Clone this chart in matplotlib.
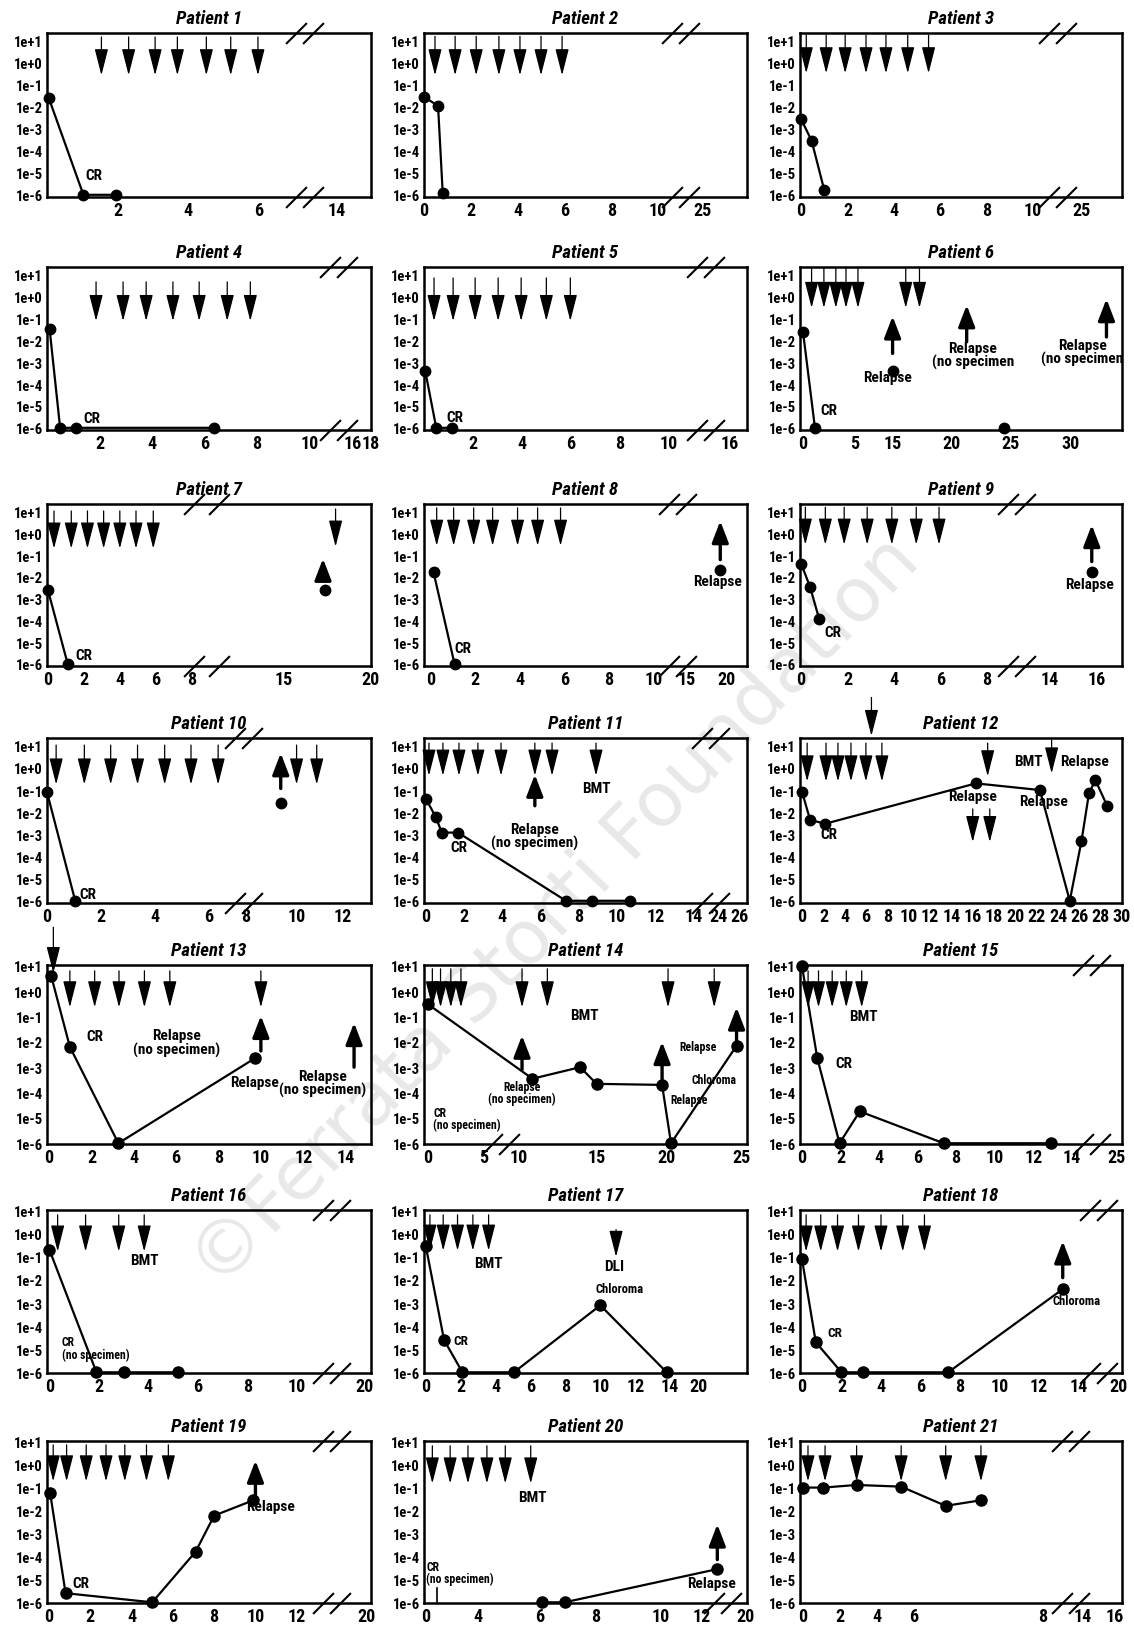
import matplotlib
matplotlib.use('Agg')
import matplotlib.pyplot as plt

plt.rcParams['font.family'] = ['Roboto Condensed', 'Fira Sans Condensed', 'DejaVu Sans']
plt.rcParams['font.weight'] = 'heavy'

W, H = 1134, 1631

YTICKS = [1e1, 1e0, 1e-1, 1e-2, 1e-3, 1e-4, 1e-5, 1e-6]
YLABELS = ['1e+1', '1e+0', '1e-1', '1e-2', '1e-3', '1e-4', '1e-5', '1e-6']

# ---- patient data (x in axis units, y = residual disease level) ----
P1_X = [0.05, 1.03, 1.94]
P1_Y = [2.5e-2, 1e-6, 1e-6]
P1_DOWN = [1.54, 2.31, 3.06, 3.69, 4.51, 5.2, 5.97]
P1_TICKS = [2, 4, 6, 8.2]
P1_LABELS = ['2', '4', '6', '14']

P2_X = [0, 0.6, 0.8]
P2_Y = [2.8e-2, 1.1e-2, 1.2e-6]
P2_DOWN = [0.47, 1.33, 2.23, 3.2, 4.1, 5.0, 5.9]
P2_TICKS = [0, 2, 4, 6, 8, 10, 11.9]
P2_LABELS = ['0', '2', '4', '6', '8', '10', '25']

P3_X = [0, 0.45, 1.0]
P3_Y = [2.7e-3, 2.9e-4, 1.6e-6]
P3_DOWN = [0.22, 1.08, 1.9, 2.8, 3.66, 4.6, 5.5]
P3_TICKS = [0, 2, 4, 6, 8, 10, 12.1]
P3_LABELS = ['0', '2', '4', '6', '8', '10', '25']

P4_X = [0.1, 0.5, 1.1, 6.35]
P4_Y = [3.2e-2, 1e-6, 1e-6, 1e-6]
P4_DOWN = [1.87, 2.9, 3.78, 4.8, 5.8, 6.87, 7.75]
P4_TICKS = [2, 4, 6, 8, 10, 11.65, 12.35]
P4_LABELS = ['2', '4', '6', '8', '10', '16', '18']

P5_X = [0.05, 0.5, 1.15]
P5_Y = [4e-4, 1e-6, 1e-6]
P5_DOWN = [0.41, 1.19, 2.09, 3.03, 3.97, 5.0, 5.98]
P5_TICKS = [2, 4, 6, 8, 10, 12.5]
P5_LABELS = ['2', '4', '6', '8', '10', '16']

P6_X = [0, 1.0]
P6_Y = [2.5e-2, 1e-6]
P6_PX = [7.5, 16.8]
P6_PY = [4e-4, 1e-6]
P6_DOWN = [0.72, 1.75, 2.75, 3.6, 4.6, 8.6, 9.75]
P6_TICKS = [0, 4.33, 7.5, 12.4, 17.4, 22.4]
P6_LABELS = ['0', '5', '15', '20', '25', '30']

P7_X = [0, 1.1]
P7_Y = [2.5e-3, 1e-6]
P7_PX = [15.4]
P7_PY = [2.5e-3]
P7_DOWN = [0.34, 1.3, 2.2, 3.1, 4.0, 4.9, 5.86]
P7_TICKS = [0, 2, 4, 6, 8, 13.1, 17.97]
P7_LABELS = ['0', '2', '4', '6', '8', '15', '20']

P8_X = [0.13, 1.07]
P8_Y = [1.6e-2, 1e-6]
P8_PX = [13.0]
P8_PY = [2e-2]
P8_DOWN = [0.27, 1.03, 1.93, 2.78, 3.9, 4.8, 5.83]
P8_TICKS = [0, 2, 4, 6, 8, 10, 11.5, 13.3]
P8_LABELS = ['0', '2', '4', '6', '8', '10', '15', '20']

P9_X = [0, 0.38, 0.77]
P9_Y = [4e-2, 3.5e-3, 1.2e-4]
P9_PX = [12.5]
P9_PY = [1.6e-2]
P9_DOWN = [0.18, 1.04, 1.85, 2.84, 3.9, 4.95, 5.93]
P9_TICKS = [0, 2, 4, 6, 8, 10.7, 12.7]
P9_LABELS = ['0', '2', '4', '6', '8', '14', '16']

P10_X = [0, 1.05]
P10_Y = [8e-2, 1e-6]
P10_PX = [8.7]
P10_PY = [2.5e-2]
P10_DOWN = [0.34, 1.39, 2.37, 3.37, 4.38, 5.36, 6.37, 9.29, 10.04]
P10_TICKS = [0, 2, 4, 6, 7.4, 9.3, 11.0]
P10_LABELS = ['0', '2', '4', '6', '8', '10', '12']

P11_X = [0, 0.52, 0.83, 1.68, 7.33, 8.7, 10.7]
P11_Y = [4e-2, 6e-3, 1.2e-3, 1.2e-3, 1e-6, 1e-6, 1e-6]
P11_DOWN = [0.16, 0.89, 1.73, 2.72, 3.93, 5.7, 6.6, 8.9]
P11_TICKS = [0, 2, 4, 6, 8, 10, 12, 14, 15.3, 16.4]
P11_LABELS = ['0', '2', '4', '6', '8', '10', '12', '14', '24', '26']

P12_X = [0, 0.75, 2.15, 16.3, 22.3, 25.1, 26.2, 26.9, 27.5, 28.6]
P12_Y = [8e-2, 4.5e-3, 3e-3, 0.2, 0.1, 1e-6, 5e-4, 7e-2, 0.28, 2e-2]
P12_DOWN = [0.47, 2.24, 3.36, 4.58, 5.98, 7.48]
P12_TICKS = list(range(0, 31, 2))
P12_LABELS = [str(t) for t in P12_TICKS]

P13_X = [0.1, 0.98, 3.27, 9.7]
P13_Y = [3.9, 6.3e-3, 1e-6, 2.2e-3]
P13_DOWN = [0.98, 2.15, 3.3, 4.5, 5.7, 10.0]
P13_TICKS = [0, 2, 4, 6, 8, 10, 12, 14]
P13_LABELS = ['0', '2', '4', '6', '8', '10', '12', '14']

P14_X = [0, 7.0, 10.2, 11.3, 15.7, 16.3, 20.7]
P14_Y = [0.3, 3.5e-4, 1e-3, 2.2e-4, 2e-4, 1e-6, 7e-3]
P14_DOWN = [0.28, 0.83, 1.52, 2.2, 6.3, 8.0, 16.1, 19.2]
P14_TICKS = [0, 3.7, 6.07, 11.3, 16.0, 21.0]
P14_LABELS = ['0', '5', '10', '15', '20', '25']

P15_X = [0, 0.8, 1.95, 3.0, 7.35, 12.9]
P15_Y = [10, 2.2e-3, 1e-6, 1.8e-5, 1e-6, 1e-6]
P15_DOWN = [0.32, 0.86, 1.57, 2.3, 3.1]
P15_TICKS = [0, 2, 4, 6, 8, 10, 12, 14, 16.3]
P15_LABELS = ['0', '2', '4', '6', '8', '10', '12', '14', '25']

P16_X = [0, 1.9, 3.0, 5.2]
P16_Y = [0.2, 1e-6, 1e-6, 1e-6]
P16_DOWN = [0.33, 1.46, 2.8, 3.83]
P16_TICKS = [0, 2, 4, 6, 8, 10, 12.75]
P16_LABELS = ['0', '2', '4', '6', '8', '10', '20']

P17_X = [0, 1.05, 2.1, 5.05, 10.0, 13.8]
P17_Y = [0.3, 2.5e-5, 1e-6, 1e-6, 8e-4, 1e-6]
P17_DOWN = [0.24, 1.0, 1.82, 2.7, 3.6]
P17_TICKS = [0, 2, 4, 6, 8, 10, 12, 14, 15.6]
P17_LABELS = ['0', '2', '4', '6', '8', '10', '12', '14', '20']

P18_X = [0, 0.7, 2.0, 3.1, 7.4, 13.2]
P18_Y = [0.08, 2e-5, 1e-6, 1e-6, 1e-6, 4e-3]
P18_DOWN = [0.21, 0.95, 1.8, 2.86, 4.0, 5.1, 6.2]
P18_TICKS = [0, 2, 4, 6, 8, 10, 12, 14, 16.0]
P18_LABELS = ['0', '2', '4', '6', '8', '10', '12', '14', '20']

P19_X = [0.05, 0.8, 5.0, 7.1, 8.0, 9.9]
P19_Y = [0.06, 2.5e-6, 1e-6, 1.6e-4, 6e-3, 2.8e-2]
P19_DOWN = [0.2, 0.85, 1.8, 2.76, 3.67, 4.72, 5.78]
P19_TICKS = [0, 2, 4, 6, 8, 10, 12, 15.4]
P19_LABELS = ['0', '2', '4', '6', '8', '10', '12', '20']

P20_X = [8.2, 9.8, 20.6]
P20_Y = [1e-6, 1e-6, 2.8e-5]
P20_DOWN = [0.44, 1.7, 2.96, 4.3, 5.6, 7.4]
P20_TICKS = [0, 3.7, 8.0, 12.0, 16.6, 19.5, 22.6]
P20_LABELS = ['0', '4', '6', '8', '10', '12', '20']
P20_CR_MARK = 0.8

P21_X = [0, 1.1, 2.9, 5.3, 7.7, 9.6]
P21_Y = [0.1, 0.1, 0.13, 0.11, 0.016, 0.028]
P21_DOWN = [0.28, 1.2, 2.9, 5.3, 7.7, 9.6]
P21_TICKS = [0, 2, 4, 6, 12.9, 15.1, 16.8]
P21_LABELS = ['0', '2', '4', '6', '8', '14', '16']

# ---- panel layout: events, annotations (y positions as log10) ----
PANELS = [
    dict(x=P1_X, y=P1_Y, down=P1_DOWN, ticks=P1_TICKS, labels=P1_LABELS, xlim=(0, 9.17),
         span=(1.17, -0.57), brk=[7.3], texts=[('CR', 1.33, -5.1)]),
    dict(x=P2_X, y=P2_Y, down=P2_DOWN, ticks=P2_TICKS, labels=P2_LABELS, xlim=(0, 13.8),
         span=(1.2, -0.57), brk=[10.95]),
    dict(x=P3_X, y=P3_Y, down=P3_DOWN, ticks=P3_TICKS, labels=P3_LABELS, xlim=(-0.05, 13.85),
         span=(1.25, -0.48), brk=[11.05]),
    dict(x=P4_X, y=P4_Y, down=P4_DOWN, ticks=P4_TICKS, labels=P4_LABELS, xlim=(0, 12.3),
         span=(0.67, -1.12), brk=[11.1], texts=[('CR', 1.7, -5.55)]),
    dict(x=P5_X, y=P5_Y, down=P5_DOWN, ticks=P5_TICKS, labels=P5_LABELS, xlim=(0, 13.2),
         span=(0.85, -1.12), brk=[11.5], texts=[('CR', 1.27, -5.5)]),
    dict(x=P6_X, y=P6_Y, px=P6_PX, py=P6_PY, down=P6_DOWN, ticks=P6_TICKS, labels=P6_LABELS,
         xlim=(-0.25, 26.7), span=(1.3, -0.52),
         up=[(7.5, -2.6, -0.9), (13.7, -2.07, -0.39), (25.4, -1.85, -0.11)],
         texts=[('CR', 2.2, -5.18), ('Relapse', 7.1, -3.67),
                ('Relapse\n(no specimen', 14.2, -2.67), ('Relapse\n(no specimen', 23.4, -2.53)]),
    dict(x=P7_X, y=P7_Y, px=P7_PX, py=P7_PY, down=P7_DOWN, ticks=P7_TICKS, labels=P7_LABELS,
         xlim=(-0.05, 17.97), span=(1.03, -0.7), brk=[8.8], gap=25,
         extra=[(16.0, 1.12, -0.61)], up=[(15.3, -1.98, -1.16)], texts=[('CR', 2.0, -5.59)]),
    dict(x=P8_X, y=P8_Y, px=P8_PX, py=P8_PY, down=P8_DOWN, ticks=P8_TICKS, labels=P8_LABELS,
         xlim=(-0.3, 14.2), span=(1.17, -0.57), brk=[11.1], up=[(13.0, -1.21, 0.57)],
         texts=[('CR', 1.43, -5.27), ('Relapse', 12.9, -2.21)]),
    dict(x=P9_X, y=P9_Y, px=P9_PX, py=P9_PY, down=P9_DOWN, ticks=P9_TICKS, labels=P9_LABELS,
         xlim=(-0.05, 13.8), span=(1.2, -0.52), brk=[9.25], up=[(12.5, -1.3, 0.39)],
         texts=[('CR', 1.38, -4.54), ('Relapse', 12.4, -2.35)]),
    dict(x=P10_X, y=P10_Y, px=P10_PX, py=P10_PY, down=P10_DOWN, ticks=P10_TICKS,
         labels=P10_LABELS, xlim=(0, 12.06), span=(1.03, -0.75), brk=[7.3],
         up=[(8.7, -0.93, 0.67)], texts=[('CR', 1.53, -5.68)]),
    dict(x=P11_X, y=P11_Y, down=P11_DOWN, ticks=P11_TICKS, labels=P11_LABELS,
         xlim=(-0.1, 16.8), span=(1.12, -0.35), brk=[14.9], up=[(5.7, -1.71, -0.3)],
         texts=[('CR', 1.7, -3.55), ('BMT', 8.9, -0.93), ('Relapse\n(no specimen)', 5.7, -3.08)]),
    dict(x=P12_X, y=P12_Y, down=P12_DOWN, ticks=P12_TICKS, labels=P12_LABELS,
         xlim=(-0.2, 29.9), span=(1.12, -0.61),
         extra=[(6.5, 3.18, 1.44), (17.4, 1.12, -0.38), (23.4, 1.26, -0.25),
                (16.0, -1.85, -3.35), (17.6, -1.85, -3.35)],
         texts=[('CR', 2.5, -2.99), ('Relapse', 16.0, -1.25), ('Relapse', 22.6, -1.48),
                ('BMT', 21.2, 0.3), ('Relapse', 26.5, 0.3)]),
    dict(x=P13_X, y=P13_Y, down=P13_DOWN, ticks=P13_TICKS, labels=P13_LABELS,
         xlim=(-0.1, 15.2), span=(0.8, -0.64), extra=[(0.2, 2.52, 0.71)],
         up=[(10.0, -2.36, -0.97), (14.4, -3.0, -1.25)],
         texts=[('CR', 2.15, -1.79), ('Relapse\n(no specimen)', 6.0, -2.03),
                ('Relapse', 9.7, -3.59), ('Relapse\n(no specimen)', 12.9, -3.63)]),
    dict(x=P14_X, y=P14_Y, down=P14_DOWN, ticks=P14_TICKS, labels=P14_LABELS,
         xlim=(-0.28, 21.4), span=(0.88, -0.64), brk=[4.85], brk_top=False,
         up=[(6.3, -3.1, -1.75), (15.7, -3.5, -2.0), (20.7, -2.0, -0.64)],
         texts=[('BMT', 10.5, -0.93), ('Relapse\n(no specimen)', 6.3, -4.0, 8.5),
                ('CR\n(no specimen)', 0.34, -5.02, 8.5, 'left'), ('Relapse', 18.1, -2.2, 8.5),
                ('Chloroma', 19.2, -3.47, 8.5), ('Relapse', 17.5, -4.29, 8.5)]),
    dict(x=P15_X, y=P15_Y, down=P15_DOWN, ticks=P15_TICKS, labels=P15_LABELS,
         xlim=(-0.1, 16.6), span=(0.8, -0.64), brk=[15.0],
         texts=[('BMT', 3.2, -0.97), ('CR', 2.15, -2.85)]),
    dict(x=P16_X, y=P16_Y, down=P16_DOWN, ticks=P16_TICKS, labels=P16_LABELS,
         xlim=(-0.1, 13.0), span=(0.82, -0.77), brk=[11.4],
         texts=[('BMT', 3.83, -1.14), ('CR\n(no specimen)', 0.5, -4.95, 8.5, 'left')]),
    dict(x=P17_X, y=P17_Y, down=P17_DOWN, ticks=P17_TICKS, labels=P17_LABELS,
         xlim=(-0.1, 18.4), span=(0.82, -0.73), extra=[(10.9, 0.18, -1.0)],
         texts=[('BMT', 3.6, -1.27), ('DLI', 10.8, -1.41), ('Chloroma', 11.1, -2.36, 9),
                ('CR', 2.0, -4.64, 9.5)]),
    dict(x=P18_X, y=P18_Y, down=P18_DOWN, ticks=P18_TICKS, labels=P18_LABELS,
         xlim=(-0.1, 16.2), span=(0.82, -0.77), brk=[15.0], up=[(13.2, -1.9, -0.32)],
         texts=[('CR', 1.64, -4.27, 9.5), ('Chloroma', 13.9, -2.9, 9)]),
    dict(x=P19_X, y=P19_Y, down=P19_DOWN, ticks=P19_TICKS, labels=P19_LABELS,
         xlim=(-0.1, 15.6), span=(0.86, -0.73), brk=[13.7], up=[(10.0, -1.41, 0.18)],
         texts=[('Relapse', 10.75, -1.82), ('CR', 1.56, -5.18)]),
    dict(x=P20_X, y=P20_Y, down=P20_DOWN, ticks=P20_TICKS, labels=P20_LABELS,
         xlim=(-0.15, 22.7), span=(0.82, -0.82), brk=[21.0], brk_top=False,
         up=[(20.6, -4.14, -2.6)],
         texts=[('BMT', 7.55, -1.41), ('Relapse', 20.2, -5.18),
                ('CR\n(no specimen)', 0.0, -4.7, 8.5, 'left')]),
    dict(x=P21_X, y=P21_Y, down=P21_DOWN, ticks=P21_TICKS, labels=P21_LABELS,
         xlim=(-0.15, 17.2), span=(0.82, -0.73), brk=[14.4]),
]

# axes boxes in pixels (left, right) / (top, bottom)
COLS = [(47, 371), (424, 747), (800, 1122)]
ROWS = [(34, 198), (268, 431), (505, 667), (739, 904), (966, 1145), (1211, 1374), (1442, 1604)]


def arrow(ax, x, y0, y1, up=False):
    if up:
        props = dict(arrowstyle='-|>,head_length=1.3,head_width=0.5', lw=2.4,
                     color='black', shrinkA=0, shrinkB=0)
    else:
        props = dict(arrowstyle='-|>,head_length=1.65,head_width=0.42', lw=0.9,
                     color='black', shrinkA=0, shrinkB=0)
    ax.annotate('', xy=(x, 10 ** y1), xytext=(x, 10 ** y0), arrowprops=props,
                annotation_clip=False)


fig = plt.figure(figsize=(W / 100, H / 100), dpi=100)
fig.text(0.49, 0.44, '\u00a9Ferrata Storti Foundation', family='DejaVu Sans',
         weight='normal', fontsize=54, color='#e8e8e8', rotation=46,
         ha='center', va='center', zorder=-1)

for i, p in enumerate(PANELS):
    r, c = divmod(i, 3)
    l, rr = COLS[c]
    t, b = ROWS[r]
    ax = fig.add_axes([l / W, 1 - b / H, (rr - l) / W, (b - t) / H])
    ax.set_facecolor('none')
    ax.set_yscale('log')
    if r < 4:
        ax.set_ylim(10 ** -6.1, 10 ** 1.35)
    else:
        ax.set_ylim(10 ** -6.03, 10 ** 1.03)
    ax.set_xlim(*p['xlim'])
    ax.set_yticks(YTICKS)
    ax.set_yticklabels(YLABELS)
    ax.minorticks_off()
    ax.set_xticks(p['ticks'])
    ax.set_xticklabels(p['labels'])
    ax.tick_params(axis='both', length=0)
    ax.tick_params(axis='y', labelsize=10.5, pad=3)
    ax.tick_params(axis='x', labelsize=13, pad=3)
    for s in ax.spines.values():
        s.set_linewidth(1.8)
    ax.set_title('Patient %d' % (i + 1), fontsize=13.5, fontstyle='italic',
                 fontweight='heavy', pad=7)

    ms = 7.5 if r < 4 else 8
    ax.plot(p['x'], p['y'], '-o', color='black', lw=1.6, ms=ms, clip_on=False, zorder=4)
    if 'px' in p:
        ax.plot(p['px'], p['py'], 'o', color='black', ms=ms, clip_on=False, zorder=4)

    y0, y1 = p['span']
    for x in p['down']:
        arrow(ax, x, y0, y1)
    for x, a, bb in p.get('extra', []):
        arrow(ax, x, a, bb)
    for x, a, bb in p.get('up', []):
        arrow(ax, x, a, bb, up=True)

    for tx in p.get('texts', []):
        s, x, ly = tx[0], tx[1], tx[2]
        size = tx[3] if len(tx) > 3 else 11
        ha = tx[4] if len(tx) > 4 else 'center'
        ax.text(x, 10 ** ly, s, fontsize=size, ha=ha, va='center',
                linespacing=0.95, zorder=5)

    # axis break slashes
    xr = p['xlim'][1] - p['xlim'][0]
    gap = p.get('gap', 17) * xr / (rr - l) / 2
    ys = [0, 1] if p.get('brk_top', True) else [0]
    for bx in p.get('brk', []):
        for yy in ys:
            ax.plot([bx - gap, bx + gap], [yy, yy], transform=ax.get_xaxis_transform(),
                    marker=[(-1, -1), (1, 1)], markersize=15, mew=1.5, ls='none',
                    color='black', clip_on=False, zorder=6)

    if i == 19:
        ax.plot([P20_CR_MARK, P20_CR_MARK], [10 ** -5.36, 1e-6], color='black', lw=1.2)

fig.savefig('out.png', dpi=100)
